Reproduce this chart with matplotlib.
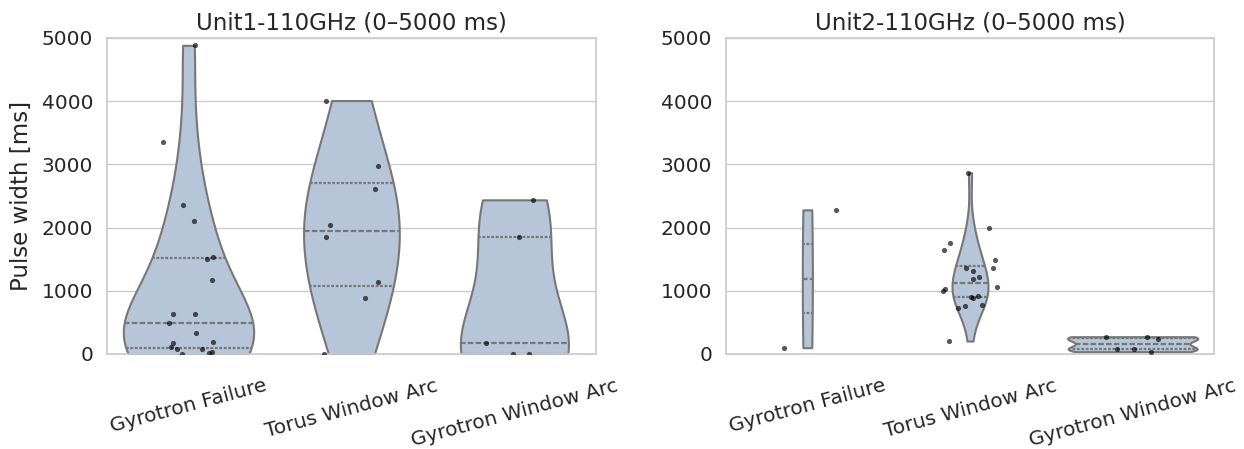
import numpy as np
import pandas as pd
import matplotlib
matplotlib.use("Agg")
import matplotlib.pyplot as plt
import seaborn as sns

# categories (same order on both panels)
categories = ["Gyrotron Failure", "Torus Window Arc", "Gyrotron Window Arc"]

# Unit1 pulse widths [ms], with horizontal jitter (category units)
u1_gf = [4884, 3350, 2350, 2100, 1540, 1500, 1171, 628, 628, 486, 332, 190, 169, 116, 84, 74, 0, 10, 37]
u1_gf_jit = [0.042, -0.157, -0.031, 0.034, 0.151, 0.112, 0.146, -0.094, 0.042, -0.117, 0.044,
             0.152, -0.095, -0.108, -0.072, 0.081, -0.040, 0.124, 0.142]
u1_twa = [4010, 2980, 2608, 2038, 1848, 1146, 892, 0]
u1_twa_jit = [-0.157, 0.162, 0.147, -0.132, -0.157, 0.166, 0.086, -0.169]
u1_gwa = [2439, 1858, 169, 0, 0]
u1_gwa_jit = [0.116, 0.031, -0.173, -0.008, 0.087]

# Unit2
u2_gf = [2281, 100]
u2_gf_jit = [0.177, -0.143]
u2_twa = [2868, 1995, 1763, 1647, 1484, 1363, 1353, 1321, 1226, 1184,
          1053, 1026, 990, 911, 905, 879, 779, 763, 721, 205]
u2_twa_jit = [-0.010, 0.119, -0.123, -0.158, 0.156, 0.139, -0.025, 0.020, 0.057, 0.016,
              0.168, -0.156, -0.168, 0.047, 0.004, 0.020, 0.076, -0.031, -0.072, -0.127]
u2_gwa = [263, 274, 231, 79, 84, 37]
u2_gwa_jit = [-0.162, 0.088, 0.158, -0.096, 0.006, 0.115]

panels = [
    ("Unit1-110GHz (0–5000 ms)", [(u1_gf, u1_gf_jit), (u1_twa, u1_twa_jit), (u1_gwa, u1_gwa_jit)]),
    ("Unit2-110GHz (0–5000 ms)", [(u2_gf, u2_gf_jit), (u2_twa, u2_twa_jit), (u2_gwa, u2_gwa_jit)]),
]

sns.set_theme(style="whitegrid")
plt.rcParams['font.family'] = ['DejaVu Sans']

fig = plt.figure(figsize=(12.44, 4.49), dpi=100)
ax1 = fig.add_axes([0.086, 0.2116, 0.393, 0.7038])
ax2 = fig.add_axes([0.5836, 0.2116, 0.3923, 0.7038])

for ax, (title, groups) in zip([ax1, ax2], panels):
    rows = []
    for cat, (vals, _) in zip(categories, groups):
        rows += [(cat, v) for v in vals]
    df = pd.DataFrame(rows, columns=["cat", "pw"])
    sns.violinplot(data=df, x="cat", y="pw", order=categories, color="lightsteelblue",
                   inner="quartile", cut=0, linewidth=1.5, inner_kws=dict(linewidth=1.6),
                   ax=ax)
    for i, (vals, jit) in enumerate(groups):
        ax.scatter(i + np.array(jit), vals, s=14, color="black", alpha=0.65,
                   linewidths=0, zorder=5)
    ax.set_ylim(0, 5000)
    ax.set_xlim(-0.5, 2.5)
    ax.set_yticks([0, 1000, 2000, 3000, 4000, 5000])
    ax.set_title(title, fontsize=16.5, pad=6)
    ax.set_xlabel("")
    ax.set_ylabel("")
    ax.tick_params(axis="y", labelsize=14.5, pad=4)
    ax.tick_params(axis="x", labelsize=14.5, labelrotation=15, pad=10)

ax1.set_ylabel("Pulse width [ms]", fontsize=16.5, labelpad=6)

fig.savefig("out.png", dpi=100)
